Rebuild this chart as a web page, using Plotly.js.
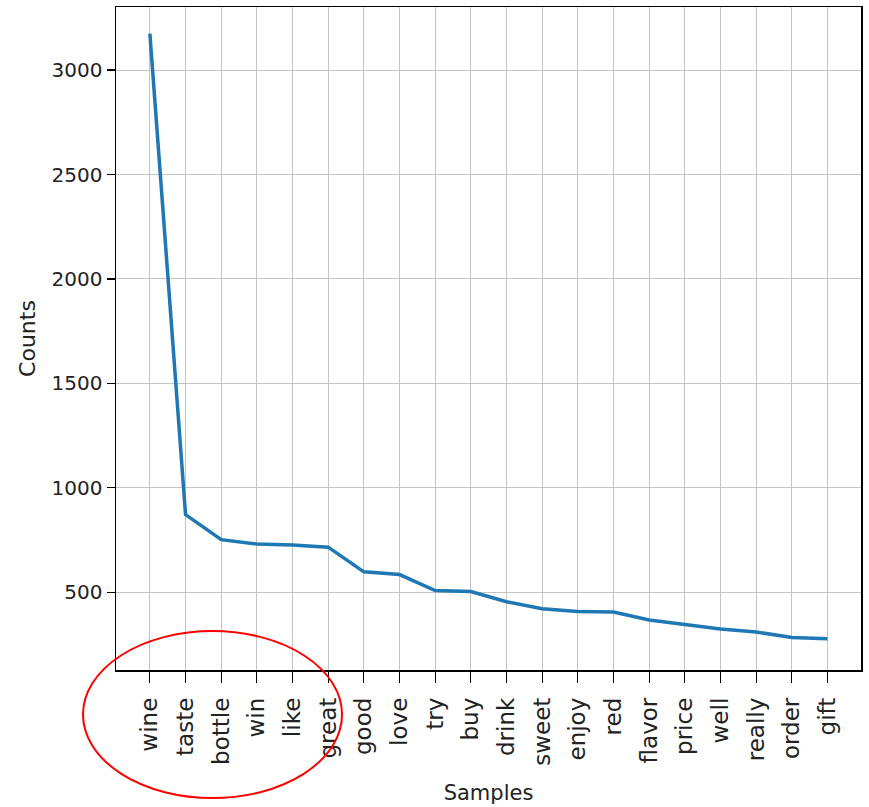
<!DOCTYPE html>
<html>
<head>
<meta charset="utf-8">
<script src="https://cdn.plot.ly/plotly-3.0.1.min.js"></script>
<style>
html, body { margin: 0; padding: 0; background: #fff; }
#chart { width: 869px; height: 807px; }
</style>
</head>
<body>
<div id="chart"></div>
<script>
const samples = ["wine", "taste", "bottle", "win", "like", "great", "good", "love", "try", "buy",
  "drink", "sweet", "enjoy", "red", "flavor", "price", "well", "really", "order", "gift"];
const counts = [3175, 872, 752, 731, 726, 716, 598, 585, 508, 504,
  455, 421, 408, 406, 367, 345, 324, 310, 284, 278];
const yTicks = [500, 1000, 1500, 2000, 2500, 3000];

const font = "DejaVu Sans, Liberation Sans, sans-serif";
const textColor = "#222222";

const trace = {
  x: samples,
  y: counts,
  type: "scatter",
  mode: "lines",
  line: { color: "#1f77b4", width: 3.5 },
  hoverinfo: "x+y"
};

const layout = {
  width: 869,
  height: 807,
  margin: { l: 116, r: 8, t: 7, b: 137 },
  paper_bgcolor: "#ffffff",
  plot_bgcolor: "#ffffff",
  showlegend: false,
  font: { family: font, color: textColor },
  xaxis: {
    type: "category",
    range: [-0.95, 19.94],
    tickangle: -90,
    tickfont: { family: font, size: 23, color: textColor },
    ticks: "outside",
    ticklen: 11,
    tickwidth: 1.2,
    tickcolor: "#000",
    ticklabelstandoff: 6,
    showgrid: true,
    gridcolor: "#c4c4c4",
    gridwidth: 1,
    showline: true,
    mirror: true,
    linecolor: "#000",
    linewidth: 1.5,
    zeroline: false,
    title: { text: "Samples", font: { family: font, size: 21, color: textColor }, standoff: 20 }
  },
  yaxis: {
    range: [128, 3302],
    tickvals: yTicks,
    ticktext: yTicks.map(String),
    tickfont: { family: font, size: 20, color: textColor },
    ticks: "outside",
    ticklen: 8,
    tickwidth: 1.2,
    tickcolor: "#000",
    showgrid: true,
    gridcolor: "#c4c4c4",
    gridwidth: 1,
    showline: true,
    mirror: true,
    linecolor: "#000",
    linewidth: 1.5,
    zeroline: false,
    title: { text: "Counts", font: { family: font, size: 22, color: textColor }, standoff: 10 }
  },
  shapes: [
    {
      type: "circle",
      xref: "paper",
      yref: "paper",
      x0: -0.0443,
      x1: 0.3034,
      y0: -0.1931,
      y1: 0.0588,
      line: { color: "#ff0000", width: 2 },
      fillcolor: "rgba(0,0,0,0)",
      layer: "above"
    }
  ]
};

Plotly.newPlot("chart", [trace], layout, { displayModeBar: false, staticPlot: true });
</script>
</body>
</html>
